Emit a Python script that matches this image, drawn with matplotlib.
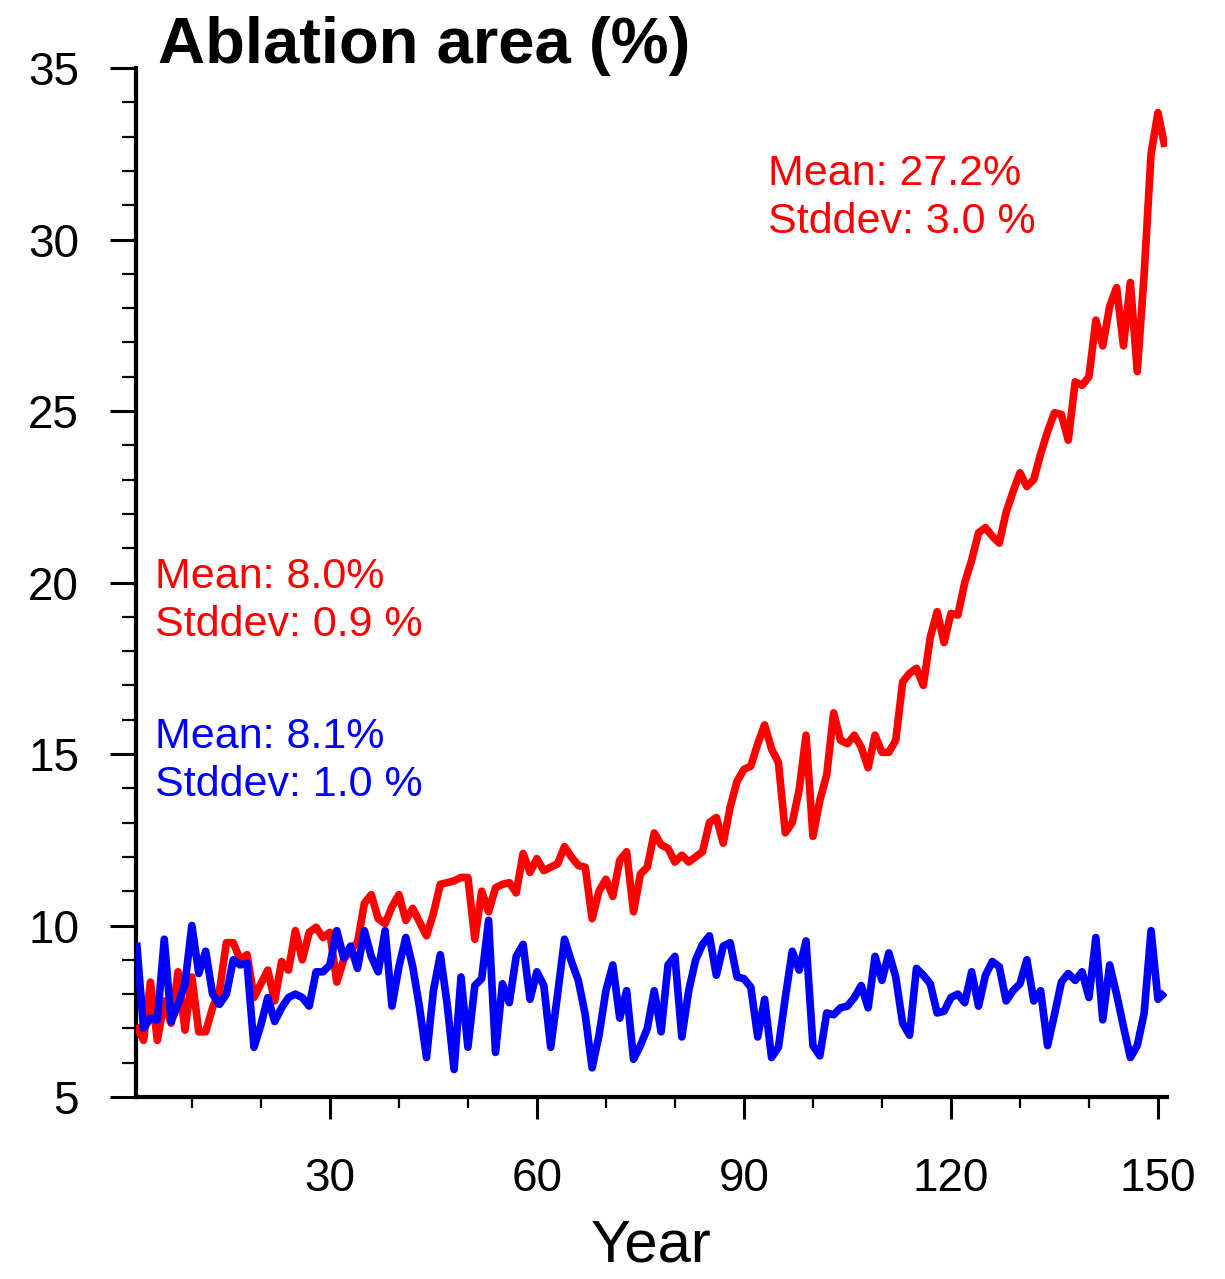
import numpy as np
import matplotlib
matplotlib.use('Agg')
import matplotlib.pyplot as plt
from matplotlib.ticker import MultipleLocator

plt.rcParams['font.family'] = ['Liberation Sans', 'DejaVu Sans']

years = np.arange(2, 152)

# ablation area, warming run (red)
warm = [7.1, 6.65, 8.35, 6.65, 7.8, 7.15, 8.65, 6.95, 8.5, 6.9,
        6.9, 7.6, 8.1, 9.5, 9.5, 9.0, 9.15, 7.9, 8.3, 8.7,
        7.8, 8.95, 8.7, 9.85, 9.0, 9.8, 9.95, 9.65, 9.8, 8.35,
        9.0, 9.3, 9.5, 10.65, 10.9, 10.2, 10.05, 10.55, 10.9, 10.15,
        10.5, 10.1, 9.7, 10.35, 11.2, 11.25, 11.3, 11.4, 11.4, 9.6,
        11.0, 10.4, 11.1, 11.2, 11.25, 10.95, 12.1, 11.55, 11.95, 11.6,
        11.7, 11.8, 12.3, 12.0, 11.75, 11.7, 10.2, 11.0, 11.35, 10.85,
        11.9, 12.15, 10.4, 11.5, 11.7, 12.7, 12.35, 12.25, 11.85, 12.05,
        11.85, 12.0, 12.15, 13.0, 13.15, 12.4, 13.45, 14.2, 14.55, 14.65,
        15.3, 15.85, 15.15, 14.75, 12.7, 13.0, 13.95, 15.55, 12.6, 13.65,
        14.4, 16.2, 15.4, 15.3, 15.55, 15.2, 14.6, 15.55, 15.05, 15.05,
        15.4, 17.1, 17.35, 17.5, 17.0, 18.4, 19.15, 18.25, 19.1, 19.05,
        20.0, 20.65, 21.45, 21.6, 21.35, 21.15, 22.05, 22.65, 23.2, 22.8,
        23.0, 23.75, 24.4, 24.95, 24.9, 24.15, 25.85, 25.75, 26.0, 27.65,
        26.9, 28.05, 28.6, 26.9, 28.75, 26.15, 29.0, 32.5, 33.7, 32.7]

# ablation area, control run (blue)
ctrl = [9.5, 7.0, 7.3, 7.25, 9.6, 7.2, 7.7, 8.3, 10.0, 8.6,
        9.25, 8.0, 7.7, 8.0, 9.0, 8.85, 8.9, 6.45, 7.1, 7.9,
        7.2, 7.6, 7.9, 8.0, 7.9, 7.65, 8.65, 8.65, 8.85, 9.85,
        9.05, 9.4, 8.75, 9.85, 9.1, 8.65, 9.85, 7.65, 8.8, 9.65,
        8.8, 7.6, 6.15, 8.1, 9.15, 7.7, 5.8, 8.5, 6.45, 8.25,
        8.45, 10.15, 6.3, 8.3, 7.75, 9.1, 9.45, 7.85, 8.65, 8.25,
        6.45, 8.0, 9.6, 8.95, 8.4, 7.4, 5.85, 6.8, 8.1, 8.85,
        7.3, 8.1, 6.1, 6.5, 7.0, 8.1, 6.9, 8.85, 9.1, 6.75,
        8.1, 9.0, 9.45, 9.7, 8.55, 9.4, 9.5, 8.5, 8.45, 8.2,
        6.75, 7.85, 6.15, 6.45, 7.9, 9.25, 8.7, 9.55, 6.5, 6.2,
        7.45, 7.4, 7.6, 7.65, 7.9, 8.25, 7.6, 9.1, 8.4, 9.2,
        8.5, 7.15, 6.8, 8.75, 8.55, 8.3, 7.45, 7.5, 7.9, 8.0,
        7.75, 8.65, 7.65, 8.55, 8.95, 8.8, 7.8, 8.1, 8.3, 9.0,
        7.8, 8.1, 6.5, 7.4, 8.35, 8.6, 8.4, 8.65, 7.9, 9.65,
        7.25, 8.85, 8.0, 7.05, 6.15, 6.5, 7.45, 9.85, 7.85, 8.05]

fig = plt.figure(figsize=(12.25, 12.79), dpi=100)
ax = fig.add_axes([0.111, 0.1423, 0.8416, 0.8045])

line_kw = dict(lw=5.5, solid_joinstyle='round', solid_capstyle='butt')
ax.plot(years, warm, color='#ff0000', zorder=3, **line_kw)
ax.plot(years, ctrl, color='#0000ff', zorder=4, **line_kw)

ax.set_xlim(1.9, 151.3)
ax.set_ylim(5, 35)

for s in ['top', 'right']:
    ax.spines[s].set_visible(False)
for s in ['left', 'bottom']:
    ax.spines[s].set_linewidth(3)

ax.xaxis.set_major_locator(MultipleLocator(30))
ax.xaxis.set_minor_locator(MultipleLocator(10))
ax.yaxis.set_major_locator(MultipleLocator(5))
ax.yaxis.set_minor_locator(MultipleLocator(1))
ax.tick_params(axis='x', which='major', direction='out', length=16, width=2.2,
               labelsize=33, pad=27)
ax.tick_params(axis='x', which='minor', direction='out', length=8, width=1.6)
ax.tick_params(axis='y', which='major', direction='out', length=19, width=2.2,
               labelsize=33, pad=22)
ax.tick_params(axis='y', which='minor', direction='out', length=10, width=1.6)

ax.set_xlabel('Year', fontsize=43, labelpad=13)
ax.text(0.0213, 1.005, 'Ablation area (%)', transform=ax.transAxes,
        fontsize=47, fontweight='bold', ha='left', va='baseline')

txt = dict(fontsize=31, ha='left', va='center')
ax.text(93.5, 31.9, 'Mean: 27.2%', color='#ff0000', **txt)
ax.text(93.5, 30.5, 'Stddev: 3.0 %', color='#ff0000', **txt)
ax.text(4.6, 20.15, 'Mean: 8.0%', color='#ff0000', **txt)
ax.text(4.6, 18.75, 'Stddev: 0.9 %', color='#ff0000', **txt)
ax.text(4.6, 15.5, 'Mean: 8.1%', color='#0000ff', **txt)
ax.text(4.6, 14.1, 'Stddev: 1.0 %', color='#0000ff', **txt)

fig.savefig('out.png', dpi=100)
